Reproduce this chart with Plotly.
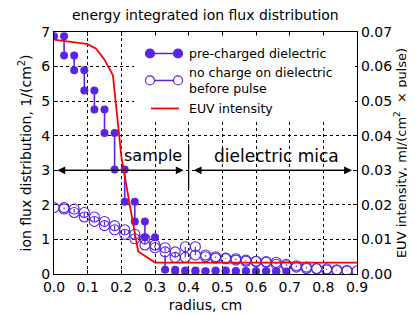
import plotly.graph_objects as go

# ---------------- data ----------------
# pre-charged dielectric: bin edges (radius, cm) and level per bin (None = no marker pair)
pre_edges = [0.00, 0.03, 0.06, 0.09, 0.12, 0.15, 0.18, 0.21, 0.24, 0.27, 0.30,
             0.33, 0.36, 0.39, 0.42, 0.45, 0.48, 0.51, 0.54, 0.57, 0.60, 0.63,
             0.66, 0.69]
pre_levels = [6.88, 6.32, 5.89, 5.31, 4.76, 4.08, 3.02, 2.09, 1.52, 1.06, None,
              0.12, 0.07, 0.10, 0.07, 0.08, 0.10, 0.07, 0.09, 0.07, 0.08, 0.08,
              0.07]
# drop at the sample edge (vertical segment without end marker)
pre_drop_x = [0.33]
pre_drop_top = [0.55]

# no charge on dielectric before pulse
nc_edges = [0.00, 0.03, 0.06, 0.09, 0.12, 0.15, 0.18, 0.21, 0.24, 0.27, 0.30,
            0.33, 0.36, 0.39, 0.42, 0.45, 0.48, 0.51, 0.54, 0.57, 0.60, 0.63,
            0.66, 0.69, 0.72, 0.75, 0.78, 0.81, 0.84, 0.87, 0.90]
nc_levels = [1.92, 1.88, 1.78, 1.65, 1.52, 1.40, 1.28, 1.15, 1.02, 0.84, 0.76,
             0.64, 0.48, 0.79, 0.55, 0.50, 0.46, 0.44, 0.40, 0.37, 0.36, 0.34,
             0.28, 0.24, 0.20, 0.16, 0.15, 0.12, 0.10, 0.09]

# EUV intensity (right axis)
euv_r = [0.0, 0.1, 0.125, 0.15, 0.175, 0.2, 0.225, 0.25, 0.3, 0.9]
euv_val = [0.0678, 0.0665, 0.0652, 0.0620, 0.0575, 0.0340, 0.0200, 0.0065, 0.0033, 0.0033]

x_ticks = [0.0, 0.1, 0.2, 0.3, 0.4, 0.5, 0.6, 0.7, 0.8, 0.9]
y_ticks = [0, 1, 2, 3, 4, 5, 6, 7]
y2_ticks = [0.00, 0.01, 0.02, 0.03, 0.04, 0.05, 0.06, 0.07]

COL = "#5a24e8"
FONT = "DejaVu Sans, sans-serif"


def step_points(edges, levels):
    mx, my, lx, ly = [], [], [], []
    for k, lv in enumerate(levels):
        if lv is None:
            continue
        mx += [edges[k], edges[k + 1]]
        my += [lv, lv]
        if k > 0 and levels[k - 1] is not None:
            lx += [edges[k], edges[k], None]
            ly += [levels[k - 1], lv, None]
    return mx, my, lx, ly


fig = go.Figure()

pmx, pmy, plx, ply = step_points(pre_edges, pre_levels)
for dx, dtop in zip(pre_drop_x, pre_drop_top):
    lvl = pre_levels[pre_edges.index(dx)]
    plx += [dx, dx, None]
    ply += [dtop, lvl, None]
fig.add_trace(go.Scatter(x=plx, y=ply, mode="lines", line=dict(color=COL, width=1.6),
                         showlegend=False, hoverinfo="skip"))
fig.add_trace(go.Scatter(x=pmx, y=pmy, mode="markers",
                         marker=dict(color=COL, size=8, line=dict(width=0)),
                         showlegend=False))

nmx, nmy, nlx, nly = step_points(nc_edges, nc_levels)
fig.add_trace(go.Scatter(x=nlx, y=nly, mode="lines", line=dict(color=COL, width=1.2),
                         showlegend=False, hoverinfo="skip"))
fig.add_trace(go.Scatter(x=nmx, y=nmy, mode="markers",
                         marker=dict(symbol="circle-open", color=COL, size=10,
                                     line=dict(width=1.1, color=COL)),
                         showlegend=False))

fig.add_trace(go.Scatter(x=euv_r, y=euv_val, mode="lines", yaxis="y2",
                         line=dict(color="#ff0000", width=1.8), showlegend=False))

# ---------------- annotations: sample / dielectric mica ----------------
arrow_y = 3.0
ann = []
for (xa, xb) in [(0.01, 0.385), (0.415, 0.885)]:
    ann.append(dict(x=xa, y=arrow_y, ax=xb, ay=arrow_y, xref="x", yref="y",
                    axref="x", ayref="y", showarrow=True, arrowhead=2,
                    arrowsize=1.2, arrowwidth=1.3, arrowcolor="black", text=" "))
    ann.append(dict(x=xb, y=arrow_y, ax=xa, ay=arrow_y, xref="x", yref="y",
                    axref="x", ayref="y", showarrow=True, arrowhead=2,
                    arrowsize=1.2, arrowwidth=1.3, arrowcolor="black", text=" "))
ann.append(dict(x=0.295, y=3.42, xref="x", yref="y", text="sample", showarrow=False,
                font=dict(family=FONT, size=16, color="black")))
ann.append(dict(x=0.662, y=3.42, xref="x", yref="y", text="dielectric mica",
                showarrow=False, font=dict(family=FONT, size=17, color="black")))

shapes = [dict(type="line", x0=0.4, x1=0.4, y0=2.45, y1=3.75, xref="x", yref="y",
               line=dict(color="black", width=1.2))]

# ---------------- custom legend (paper coordinates) ----------------
L, R, T, B = 46, 349, 23.5, 265.7


def px(xp):
    return (xp - L) / (R - L)


def py(yp):
    return (B - yp) / (B - T)


shapes.append(dict(type="rect", xref="paper", yref="paper", x0=px(126), x1=px(347),
                   y0=py(112), y1=py(27), fillcolor="white", line=dict(width=0),
                   layer="above"))
for yy, filled in [(45, True), (72, False)]:
    shapes.append(dict(type="line", xref="paper", yref="paper", x0=px(142), x1=px(170),
                       y0=py(yy), y1=py(yy), line=dict(color=COL, width=1.5),
                       layer="above"))
    for xx in (142, 170):
        shapes.append(dict(type="circle", xref="paper", yref="paper",
                           xsizemode="pixel", ysizemode="pixel",
                           xanchor=px(xx), yanchor=py(yy), x0=-4.5, x1=4.5, y0=-4.5, y1=4.5,
                           fillcolor=COL if filled else "white",
                           line=dict(color=COL, width=1.2), layer="above"))
shapes.append(dict(type="line", xref="paper", yref="paper", x0=px(143), x1=px(171),
                   y0=py(100), y1=py(100), line=dict(color="#ff0000", width=1.8),
                   layer="above"))
for txt, yy in [("pre-charged dielectric", 45), ("no charge on dielectric<br>before pulse", 72),
                ("EUV intensity", 100)]:
    ann.append(dict(x=px(179), y=py(yy), xref="paper", yref="paper", text=txt,
                    showarrow=False, xanchor="left", yanchor="middle", align="left",
                    font=dict(family=FONT, size=12.5, color="black")))

# title as a paper annotation centred over the plot area
ann.append(dict(x=0.5, y=1.0, xref="paper", yref="paper", xanchor="center",
                yanchor="bottom", yshift=7, showarrow=False,
                text="energy integrated ion flux distribution",
                font=dict(family=FONT, size=14, color="black")))

axis_common = dict(showline=True, linecolor="black", linewidth=1.3, ticks="inside",
                   ticklen=4, tickcolor="black", tickfont=dict(family=FONT, size=14, color="black"),
                   zeroline=False)

fig.update_layout(
    width=415, height=315,
    margin=dict(l=L, r=415 - R, t=T, b=315 - B),
    paper_bgcolor="white", plot_bgcolor="white",
    xaxis=dict(range=[0, 0.9], tickvals=x_ticks, ticktext=[f"{v:.1f}" for v in x_ticks],
               mirror="ticks", showgrid=True, gridcolor="black", griddash="dot", gridwidth=1,
               title=dict(text="radius, cm", font=dict(family=FONT, size=14, color="black"),
                          standoff=6),
               **axis_common),
    yaxis=dict(range=[0, 7], tickvals=y_ticks, ticktext=[str(v) for v in y_ticks],
               showgrid=True, gridcolor="black", griddash="dot", gridwidth=1,
               title=dict(text="ion flux distribution, 1/(cm<sup>2</sup>)",
                          font=dict(family=FONT, size=14, color="black"), standoff=6),
               **axis_common),
    yaxis2=dict(range=[0, 0.07], tickvals=y2_ticks, ticktext=[f"{v:.2f}" for v in y2_ticks],
                overlaying="y", side="right", showgrid=False,
                title=dict(text="EUV intensity, mJ/(cm<sup>2</sup>  \u00d7 pulse)",
                           font=dict(family=FONT, size=13, color="black"), standoff=1),
                **axis_common),
    annotations=ann, shapes=shapes, showlegend=False,
)

fig.write_html("out.html")
